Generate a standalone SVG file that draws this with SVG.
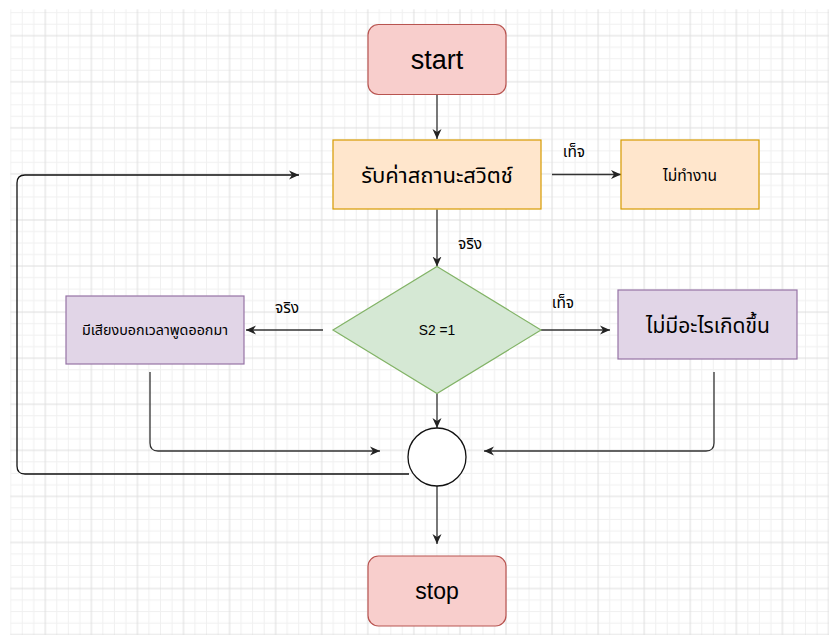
<svg xmlns="http://www.w3.org/2000/svg" width="829" height="635" viewBox="0 0 829 635">
<defs>
<pattern id="grid" x="45.3" y="35.7" width="46.07" height="46.07" patternUnits="userSpaceOnUse">
<rect x="11.02" y="0" width="1" height="46.07" fill="#f0f0f0"/>
<rect x="22.53" y="0" width="1" height="46.07" fill="#f0f0f0"/>
<rect x="34.05" y="0" width="1" height="46.07" fill="#f0f0f0"/>
<rect x="0" y="11.02" width="46.07" height="1" fill="#f0f0f0"/>
<rect x="0" y="22.53" width="46.07" height="1" fill="#f0f0f0"/>
<rect x="0" y="34.05" width="46.07" height="1" fill="#f0f0f0"/>
<rect x="-0.5" y="0" width="1" height="46.07" fill="#dedede"/>
<rect x="45.57" y="0" width="1" height="46.07" fill="#dedede"/>
<rect x="0" y="-0.5" width="46.07" height="1" fill="#dedede"/>
<rect x="0" y="45.57" width="46.07" height="1" fill="#dedede"/>
</pattern>
<marker id="arr" viewBox="0 0 10 10" markerUnits="userSpaceOnUse" markerWidth="10" markerHeight="10" refX="10" refY="5" orient="auto">
<path d="M0,0.5 L10,5 L0,9.5 L3,5 z" fill="#222"/>
</marker>
</defs>
<style>
.t{font-family:"Liberation Sans","Noto Sans Thai","Noto Sans",sans-serif;fill:#000;text-anchor:middle;dominant-baseline:central}
.c{fill:none;stroke:#333;stroke-width:1.3}
.or{fill:#ffe6cc;stroke:#d79b00;stroke-width:1.2}
.pu{fill:#e1d5e7;stroke:#9673a6;stroke-width:1.2}
.rd{fill:#f8cecc;stroke:#b85450;stroke-width:1.2}
</style>
<rect width="829" height="635" fill="#ffffff"/>
<rect x="10.3" y="9.3" width="818.7" height="625.7" fill="url(#grid)"/>
<g id="connectors">
<path class="c" d="M437,94.5 L437,139" marker-end="url(#arr)"/>
<path class="c" d="M552,174.5 L621,174.5" marker-end="url(#arr)"/>
<path class="c" d="M437,209.5 L437,266.5" marker-end="url(#arr)"/>
<path class="c" d="M323,330 L246,330" marker-end="url(#arr)"/>
<path class="c" d="M541,330 L610,330" marker-end="url(#arr)"/>
<path class="c" d="M437,393.5 L437,428" marker-end="url(#arr)"/>
<path class="c" d="M150,372 L150,443 Q150,451 158,451 L380,451" marker-end="url(#arr)"/>
<path class="c" d="M714,372 L714,443 Q714,451 706,451 L484,451" marker-end="url(#arr)"/>
<path class="c" d="M409,474 L25,474 Q17,474 17,466 L17,183 Q17,175 25,175 L299,175" marker-end="url(#arr)" style="stroke:#111"/>
<path class="c" d="M437,486 L437,544" marker-end="url(#arr)"/>
<text class="t" x="574" y="151" font-size="15.5">เท็จ</text>
<text class="t" x="470" y="243" font-size="15.5">จริง</text>
<text class="t" x="287" y="307" font-size="15.5">จริง</text>
<text class="t" x="563" y="302" font-size="15.5">เท็จ</text>
</g>
<g id="start">
<rect class="rd" x="368" y="24.5" width="138" height="70" rx="10.5"/>
<text class="t" x="437" y="60" font-size="27">start</text>
</g>
<g id="read">
<rect class="or" x="333" y="140" width="208" height="69"/>
<text class="t" x="437" y="175" font-size="22">รับค่าสถานะสวิตช์</text>
</g>
<g id="idle">
<rect class="or" x="621" y="140" width="138" height="69"/>
<text class="t" x="690" y="175" font-size="15.5">ไม่ทำงาน</text>
</g>
<g id="decision">
<path d="M437,266.5 L541,330 L437,393.5 L333,330 Z" fill="#d5e8d4" stroke="#82b366" stroke-width="1.2"/>
<text class="t" x="437" y="330" font-size="13.8">S2 =1</text>
</g>
<g id="speak">
<rect class="pu" x="66" y="296" width="178" height="68"/>
<text class="t" x="155" y="330" font-size="14.3">มีเสียงบอกเวลาพูดออกมา</text>
</g>
<g id="nothing">
<rect class="pu" x="618" y="290" width="179" height="69"/>
<text class="t" x="708" y="325" font-size="21">ไม่มีอะไรเกิดขึ้น</text>
</g>
<g id="join">
<circle cx="437" cy="457" r="29" fill="#ffffff" stroke="#111" stroke-width="1.3"/>
</g>
<g id="stop">
<rect class="rd" x="368" y="556" width="138" height="70" rx="10.5"/>
<text class="t" x="437" y="591" font-size="23">stop</text>
</g>
</svg>
